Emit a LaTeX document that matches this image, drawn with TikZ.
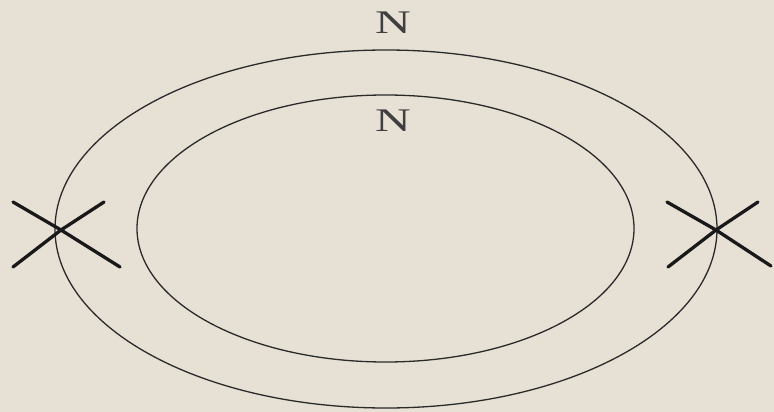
\documentclass[tikz,border=0pt]{standalone}
\usepackage{fontspec}
\usepackage{graphicx}
\setmainfont{Liberation Serif}
\definecolor{bg}{HTML}{E7E0D5}
\definecolor{ink}{HTML}{2A2A2A}
\tikzset{
  ring/.style={draw=ink, line width=1.3pt},
  crossline/.style={draw=black!90, line width=3.3pt, line cap=round},
  lbl/.style={inner sep=0pt, font=\fontsize{33}{33}\selectfont, text=ink!90}
}
\newcommand{\wideN}{\scalebox{1.5}[1]{N}}
\begin{document}
\begin{tikzpicture}[x=1pt,y=-1pt]
\fill[bg] (0,0) rectangle (774,412);
\useasboundingbox (0,0) rectangle (774,412);
\coordinate (c) at (386,229);
\draw[ring] (c) ellipse [x radius=331, y radius=179];
\draw[ring] (385.5,228.5) ellipse [x radius=248.5, y radius=133.5];
\coordinate (L) at (61,230);
\coordinate (R) at (716,230);
\draw[crossline] (13,202) -- (L) -- (120,267);
\draw[crossline] (13,267) -- (L) -- (104,202);
\draw[crossline] (667,202) -- (R) -- (771,266);
\draw[crossline] (668,267) -- (R) -- (758,202);
\node[lbl] (n1) at (393,23) {\wideN};
\node[lbl] (n2) at (393,121) {\wideN};
\end{tikzpicture}
\end{document}
